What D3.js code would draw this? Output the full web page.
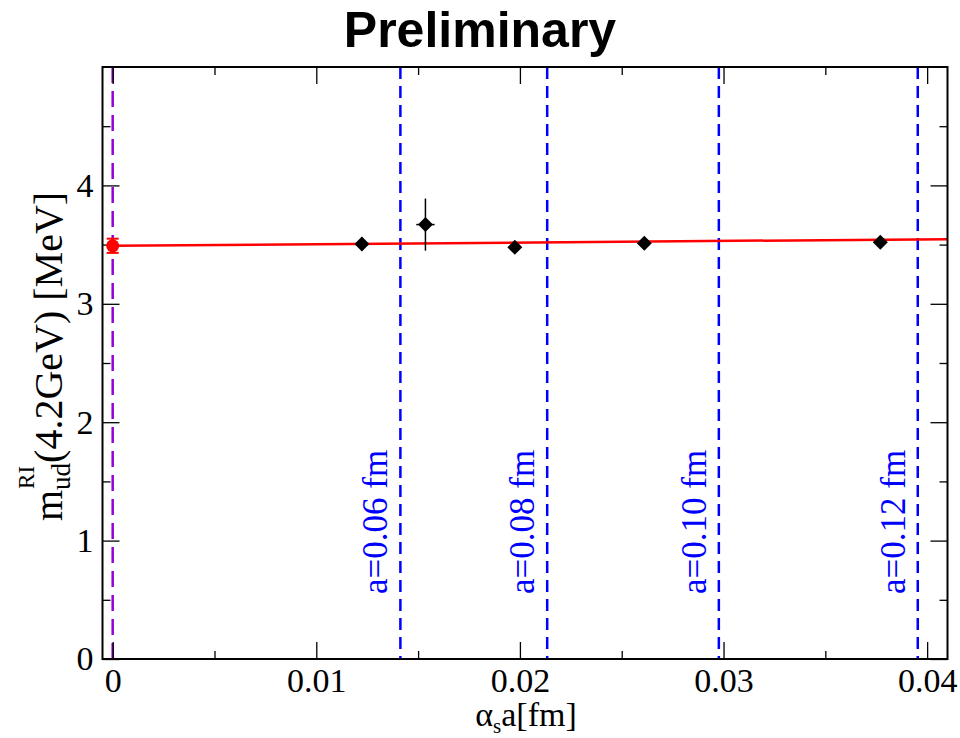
<!DOCTYPE html>
<html><head><meta charset="utf-8">
<script src="https://cdn.jsdelivr.net/npm/d3@7"></script>
<style>body{margin:0;background:#fff} svg{display:block}</style>
</head><body><svg id="c" width="960" height="738"></svg>
<script>
// ---- data ----
const xValues = [0.01224, 0.01536, 0.01975, 0.02611, 0.03770];
const yValues = [3.505, 3.669, 3.477, 3.512, 3.520];
const yErrors = [0.06, 0.22, 0.04, 0.04, 0.05];
const xErrors = [0, 0.00045, 0, 0, 0];
const extrapX = [0];
const extrapY = [3.49];
const extrapErr = [0.06];
const fitX = [0, 0.041];
const fitY = [3.49, 3.546];
const spacingX = [0.01413, 0.02134, 0.02977, 0.03954];
const spacingLabels = ["a=0.06 fm", "a=0.08 fm", "a=0.10 fm", "a=0.12 fm"];
const xTicks = [0, 0.01, 0.02, 0.03, 0.04];
const xTickLabels = ["0", "0.01", "0.02", "0.03", "0.04"];
const xMinorTicks = [0.005, 0.015, 0.025, 0.035];
const yTicks = [0, 1, 2, 3, 4];
const yTickLabels = ["0", "1", "2", "3", "4"];
const yMinorTicks = [0.5, 1.5, 2.5, 3.5, 4.5];
const titleText = "Preliminary";

// ---- layout ----
const L = 102.5, R = 947.5, T = 67, B = 659;
const svg = d3.select("#c");
const x = d3.scaleLinear().domain([-0.0005, 0.041]).range([L, R]);
const y = d3.scaleLinear().domain([0, 5]).range([B, T]);
const serif = "'Liberation Serif','Times New Roman',serif";

// title
svg.append("text").attr("x", 480).attr("y", 47).attr("text-anchor", "middle")
  .attr("font-family", "'Liberation Sans',Arial,sans-serif").attr("font-weight", "bold")
  .attr("font-size", 50).text(titleText);

// vertical reference lines (behind)
svg.append("line").attr("x1", x(0)).attr("x2", x(0)).attr("y1", T).attr("y2", B)
  .attr("stroke", "#9400d3").attr("stroke-width", 2.5).attr("stroke-dasharray", "16,8");
svg.selectAll("line.sp").data(spacingX).join("line").attr("class", "sp")
  .attr("x1", d => x(d)).attr("x2", d => x(d)).attr("y1", T).attr("y2", B)
  .attr("stroke", "#0000ff").attr("stroke-width", 2.5).attr("stroke-dasharray", "12,7");
svg.selectAll("text.sp").data(spacingX).join("text").attr("class", "sp")
  .attr("transform", d => `translate(${x(d) - 13},${594}) rotate(-90)`)
  .attr("font-family", serif).attr("font-size", 35).attr("fill", "#0000ff")
  .text((d, i) => spacingLabels[i]);

// axes (inward ticks on all sides)
function fmtX(d) { return xTickLabels[xTicks.indexOf(d)]; }
function fmtY(d) { return yTickLabels[yTicks.indexOf(d)]; }
const gB = svg.append("g").attr("transform", `translate(0,${B})`)
  .call(d3.axisBottom(x).tickValues(xTicks).tickSize(-17).tickPadding(9).tickFormat(fmtX));
const gBm = svg.append("g").attr("transform", `translate(0,${B})`)
  .call(d3.axisBottom(x).tickValues(xMinorTicks).tickSize(-8).tickFormat(""));
const gT = svg.append("g").attr("transform", `translate(0,${T})`)
  .call(d3.axisTop(x).tickValues(xTicks).tickSize(-17).tickFormat(""));
const gTm = svg.append("g").attr("transform", `translate(0,${T})`)
  .call(d3.axisTop(x).tickValues(xMinorTicks).tickSize(-8).tickFormat(""));
const gL = svg.append("g").attr("transform", `translate(${L},0)`)
  .call(d3.axisLeft(y).tickValues(yTicks).tickSize(-17).tickPadding(9).tickFormat(fmtY));
const gLm = svg.append("g").attr("transform", `translate(${L},0)`)
  .call(d3.axisLeft(y).tickValues(yMinorTicks).tickSize(-8).tickFormat(""));
const gR = svg.append("g").attr("transform", `translate(${R},0)`)
  .call(d3.axisRight(y).tickValues(yTicks).tickSize(-17).tickFormat(""));
const gRm = svg.append("g").attr("transform", `translate(${R},0)`)
  .call(d3.axisRight(y).tickValues(yMinorTicks).tickSize(-8).tickFormat(""));
[gB, gBm, gT, gTm, gL, gLm, gR, gRm].forEach(g => {
  g.select(".domain").remove();
  g.selectAll(".tick line").attr("stroke", "#000").attr("stroke-width", 1.3);
  g.selectAll(".tick text").attr("font-family", serif).attr("font-size", 34).attr("fill", "#000");
});

// fit line
svg.append("line").attr("x1", x(fitX[0])).attr("y1", y(fitY[0]))
  .attr("x2", x(fitX[1])).attr("y2", y(fitY[1]))
  .attr("stroke", "#ff0000").attr("stroke-width", 2.5);

// data points with error bars
const pts = xValues.map((d, i) => ({ x: d, y: yValues[i], ey: yErrors[i], ex: xErrors[i] }));
svg.selectAll("line.ey").data(pts).join("line").attr("class", "ey")
  .attr("x1", d => x(d.x)).attr("x2", d => x(d.x))
  .attr("y1", d => y(d.y - d.ey)).attr("y2", d => y(d.y + d.ey))
  .attr("stroke", "#000").attr("stroke-width", 1.5);
svg.selectAll("line.ex").data(pts.filter(d => d.ex > 0)).join("line").attr("class", "ex")
  .attr("x1", d => x(d.x - d.ex)).attr("x2", d => x(d.x + d.ex))
  .attr("y1", d => y(d.y)).attr("y2", d => y(d.y))
  .attr("stroke", "#000").attr("stroke-width", 1.5);
const diamond = d3.symbol().type(d3.symbolSquare).size(112);
svg.selectAll("path.pt").data(pts).join("path").attr("class", "pt")
  .attr("d", diamond)
  .attr("transform", d => `translate(${x(d.x)},${y(d.y)}) rotate(45)`)
  .attr("fill", "#000");

// extrapolated point
const ex = extrapX.map((d, i) => ({ x: d, y: extrapY[i], e: extrapErr[i] }));
ex.forEach(d => {
  const g = svg.append("g").attr("stroke", "#ff0000").attr("stroke-width", 2);
  g.append("line").attr("x1", x(d.x)).attr("x2", x(d.x)).attr("y1", y(d.y - d.e)).attr("y2", y(d.y + d.e));
  g.append("line").attr("x1", x(d.x) - 6).attr("x2", x(d.x) + 6).attr("y1", y(d.y - d.e)).attr("y2", y(d.y - d.e));
  g.append("line").attr("x1", x(d.x) - 6).attr("x2", x(d.x) + 6).attr("y1", y(d.y + d.e)).attr("y2", y(d.y + d.e));
  svg.append("circle").attr("cx", x(d.x)).attr("cy", y(d.y)).attr("r", 6.5).attr("fill", "#ff0000");
});

// frame
svg.append("rect").attr("x", L).attr("y", T).attr("width", R - L).attr("height", B - T)
  .attr("fill", "none").attr("stroke", "#000").attr("stroke-width", 2);

// x label: alpha_s a[fm]
const xl = svg.append("text").attr("x", 526).attr("y", 726).attr("text-anchor", "middle")
  .attr("font-family", serif).attr("font-size", 34);
xl.append("tspan").text("α");
xl.append("tspan").attr("font-size", 21).attr("dy", 7).text("s");
xl.append("tspan").attr("dy", -7).text("a[fm]");

// y label: m^RI_ud(4.2GeV) [MeV]
const yg = svg.append("g").attr("transform", "translate(62,521) rotate(-90)")
  .attr("font-family", serif).attr("fill", "#000");
const fs = 40;
const tm = yg.append("text").attr("x", 0).attr("y", 0).attr("font-size", fs).text("m");
const wm = tm.node().getComputedTextLength();
const tud = yg.append("text").attr("x", wm).attr("y", 8).attr("font-size", 27).text("ud");
const tri = yg.append("text").attr("x", wm + 1).attr("y", -28).attr("font-size", 23).text("RI");
const wsub = Math.max(tud.node().getComputedTextLength(), tri.node().getComputedTextLength() + 1);
yg.append("text").attr("x", wm + wsub).attr("y", 0).attr("font-size", fs).text("(4.2GeV) [MeV]");
</script>
</body></html>
